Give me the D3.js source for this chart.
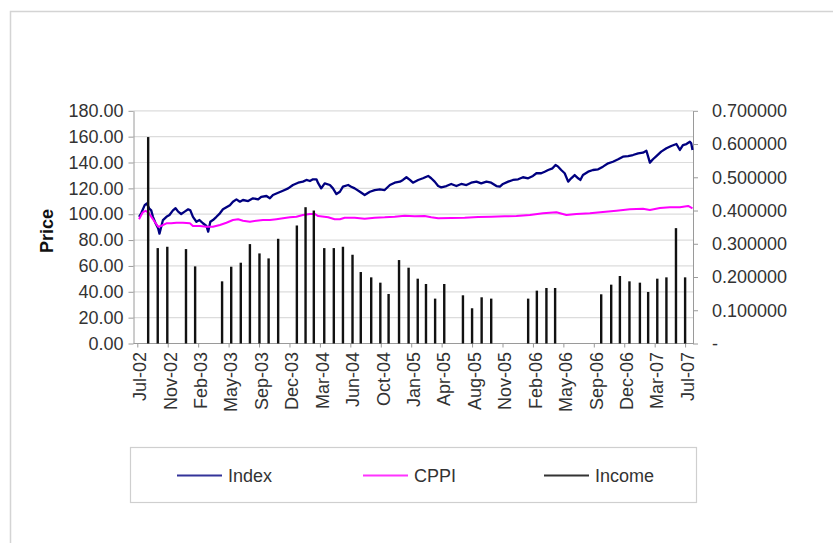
<!DOCTYPE html>
<html>
<head>
<meta charset="utf-8">
<script src="https://cdn.jsdelivr.net/npm/d3@7"></script>
<style>
  body { margin: 0; background: #fff; }
  text { font-family: "Liberation Sans", Arial, sans-serif; }
</style>
</head>
<body>
<div id="chart"></div>
<script>

// x axis runs in trading days from Jul-02, one label every 70 days
const tickLabels = ["Jul-02", "Nov-02", "Feb-03", "May-03", "Sep-03", "Dec-03", "Mar-04", "Jun-04", "Oct-04",
  "Jan-05", "Apr-05", "Aug-05", "Nov-05", "Feb-06", "May-06", "Sep-06", "Dec-06", "Mar-07", "Jul-07"];
const tickDays = tickLabels.map((d, i) => i * 70);

const priceTicks = [0, 20, 40, 60, 80, 100, 120, 140, 160, 180];
const incomeTicks = [0, 0.1, 0.2, 0.3, 0.4, 0.5, 0.6, 0.7];

const indexDay = [4, 9, 17, 22, 27, 32, 36, 42, 48, 51, 59, 67, 74, 82, 88, 94, 101, 109, 117, 122,
  128, 136, 143, 151, 159, 163, 168, 174, 182, 190, 197, 205, 213, 220, 228, 236, 243, 255, 266, 278,
  285, 297, 305, 312, 324, 335, 347, 358, 370, 381, 389, 397, 404, 412, 416, 423, 431, 443, 450, 458,
  466, 473, 485, 492, 500, 512, 523, 535, 546, 558, 569, 581, 592, 604, 611, 619, 627, 634, 646, 657,
  669, 676, 684, 692, 699, 711, 722, 734, 745, 757, 768, 780, 791, 803, 814, 826, 834, 841, 853, 864,
  876, 887, 899, 910, 918, 929, 937, 945, 955, 962, 968, 975, 983, 991, 998, 1006, 1014, 1019, 1025, 1037,
  1048, 1060, 1071, 1083, 1094, 1106, 1117, 1129, 1140, 1152, 1163, 1171, 1175, 1179, 1186, 1194, 1205, 1217, 1228, 1240,
  1248, 1255, 1263, 1271, 1274, 1277];
const indexValue = [98, 100.7, 107, 108.3, 104.6, 103, 98, 93, 89, 85, 95.5, 98, 99.4, 103, 104.6, 102, 100.2, 102, 103.8, 103,
  98, 94.2, 95.5, 93, 90.9, 86.5, 94.2, 95.5, 98, 100.7, 103.8, 105.4, 107, 109.7, 111.5, 109.7, 111, 110.2, 112.3, 111.5,
  113.5, 114.1, 112.3, 114.9, 116.6, 118.2, 120, 122.6, 124.4, 125.2, 126.5, 125.7, 127, 127, 124, 120, 123.9, 122.6, 120, 115.6,
  117.4, 121.3, 122.6, 121.3, 120, 117.4, 114.9, 117.4, 118.7, 119.3, 118.7, 122.6, 124.4, 125.2, 126.5, 128.6, 126.5, 124.4, 126.5, 127.8,
  129.6, 127.8, 125.2, 121.8, 120.8, 121.8, 123.4, 121.8, 123.4, 122.6, 124.4, 125.2, 123.9, 125.2, 124.4, 121.8, 121.3, 123.4, 125.2, 126.5,
  127, 128.6, 127.8, 129.6, 131.7, 131.7, 132.9, 134.2, 135.5, 138.1, 136.8, 134.2, 131.7, 125.2, 127.8, 130.3, 127.8, 126.5, 130.3, 132.9,
  134.2, 134.7, 136.8, 139.4, 140.6, 142.5, 144.5, 145, 145.8, 147.1, 147.6, 149.1, 144.5, 139.9, 142.5, 145, 148.4, 151, 152.8, 154.3,
  149.7, 153.5, 154.3, 156.1, 154.9, 149.7];

const cppiDay = [4, 12, 19, 27, 32, 40, 48, 55, 67, 78, 90, 105, 121, 128, 144, 159, 174, 190, 205, 220,
  232, 243, 259, 274, 289, 305, 320, 335, 351, 366, 381, 397, 408, 416, 439, 454, 466, 477, 500, 523,
  546, 569, 592, 615, 638, 661, 676, 692, 722, 753, 784, 814, 845, 872, 903, 933, 964, 987, 1010, 1041,
  1071, 1102, 1133, 1163, 1179, 1202, 1225, 1248, 1267, 1277];
const cppiValue = [96.1, 101.2, 102.7, 100.7, 98.1, 94.2, 90.3, 90.9, 93, 93, 93.4, 93.4, 93, 90.9, 90.9, 90.3, 90.3, 91.7, 93.4, 95.5,
  96.1, 95, 94.2, 95, 95.5, 95.5, 96.1, 96.8, 97.6, 98.1, 99.4, 100.2, 100.2, 98.6, 97.6, 96.1, 96.1, 97.3, 97.3, 96.5,
  97.3, 97.6, 98.1, 98.9, 98.4, 98.6, 97.6, 96.8, 97.1, 97.3, 97.8, 98.1, 98.4, 98.6, 99.4, 100.7, 101.5, 99.4, 100.2, 100.7,
  101.7, 102.7, 103.8, 104.3, 103.3, 104.8, 105.4, 105.4, 106.4, 104.6];

const incomeDay = [25, 47, 69, 112, 133, 195, 216, 238, 259, 281, 302, 324, 367, 387, 406, 430, 452, 473, 495, 514,
  538, 559, 578, 602, 624, 645, 664, 685, 706, 749, 770, 792, 814, 899, 919, 941, 961, 1067, 1090, 1110,
  1132, 1156, 1175, 1196, 1217, 1239, 1260];
const incomeValue = [0.621, 0.287, 0.291, 0.284, 0.232, 0.187, 0.231, 0.243, 0.299, 0.271, 0.256, 0.315, 0.355, 0.410, 0.400, 0.287, 0.287, 0.291, 0.267, 0.215,
  0.199, 0.183, 0.149, 0.251, 0.228, 0.195, 0.179, 0.135, 0.179, 0.145, 0.106, 0.139, 0.135, 0.135, 0.159, 0.167, 0.167, 0.148, 0.177, 0.203,
  0.187, 0.183, 0.155, 0.195, 0.199, 0.347, 0.199];

const width = 833;
const height = 543;
const plot = {left: 133.5, right: 693, top: 110.8, bottom: 343.5};

const svg = d3.select("#chart")
  .append("svg")
  .attr("width", width)
  .attr("height", height);

// outer chart frame (runs off the page on the right and bottom)
svg.append("rect")
  .attr("x", 10.5).attr("y", 11.5)
  .attr("width", 900).attr("height", 600)
  .attr("fill", "none")
  .attr("stroke", "#d4d4d4")
  .attr("stroke-width", 1.5);

let x = d3.scaleLinear().domain([0, 1277]).range([137.3, 692.5]);
let yLeft = d3.scaleLinear().domain([0, 180]).range([plot.bottom, plot.top]);
let yRight = d3.scaleLinear().domain([0, 0.7]).range([plot.bottom, plot.top]);

// gridlines
svg.append("g")
  .selectAll("line")
  .data(priceTicks.slice(1))
  .join("line")
    .attr("x1", plot.left).attr("x2", plot.right)
    .attr("y1", d => yLeft(d)).attr("y2", d => yLeft(d))
    .attr("stroke", "#dcdcdc")
    .attr("stroke-width", 1.2);

// Eixo vertical esquerdo
const axisL = svg.append("g")
  .attr("transform", "translate(" + plot.left + ",0)")
  .call(d3.axisLeft(yLeft).tickValues(priceTicks).tickFormat(d3.format(".2f")).tickSize(5).tickPadding(5).tickSizeOuter(0));

// Eixo vertical direito
const axisR = svg.append("g")
  .attr("transform", "translate(" + plot.right + ",0)")
  .call(d3.axisRight(yRight).tickValues(incomeTicks)
    .tickFormat(d => d === 0 ? "-" : d3.format(".6f")(d))
    .tickSize(5).tickPadding(14).tickSizeOuter(0));

// Eixo horizontal
const axisX = svg.append("g")
  .attr("transform", "translate(0," + plot.bottom + ")")
  .call(d3.axisBottom(x).tickValues(tickDays).tickFormat((d, i) => tickLabels[i]).tickSize(4).tickSizeOuter(0));

axisX.select(".domain").attr("d", "M" + plot.left + ",0H" + plot.right);

axisX.selectAll("text")
  .attr("transform", "rotate(-90)")
  .attr("text-anchor", "end")
  .attr("x", -8.5)
  .attr("y", 2)
  .attr("dy", "0.35em");

[axisL, axisR, axisX].forEach(g => {
  g.selectAll(".domain, line").attr("stroke", "#9a9a9a");
  g.selectAll("text").attr("font-size", 18).attr("fill", "#333")
    .attr("font-family", "'Liberation Sans', Arial, sans-serif");
});

svg.append("text")
  .attr("transform", "translate(53,231) rotate(-90)")
  .attr("text-anchor", "middle")
  .attr("font-size", 18)
  .attr("font-weight", "bold")
  .attr("fill", "#111")
  .text("Price");

// lines
const priceLine = d3.line().x(d => x(d[0])).y(d => yLeft(d[1]));

svg.append("path")
  .datum(indexDay.map((d, i) => [d, indexValue[i]]))
  .attr("fill", "none")
  .attr("stroke", "#000080")
  .attr("stroke-width", 2.3)
  .attr("stroke-linejoin", "round")
  .attr("d", priceLine);

svg.append("path")
  .datum(cppiDay.map((d, i) => [d, cppiValue[i]]))
  .attr("fill", "none")
  .attr("stroke", "#ff00ff")
  .attr("stroke-width", 2)
  .attr("stroke-linejoin", "round")
  .attr("d", priceLine);

// income bars
svg.append("g")
  .selectAll("rect")
  .data(incomeDay.map((d, i) => ({day: d, value: incomeValue[i]})))
  .join("rect")
    .attr("fill", "#111")
    .attr("x", d => x(d.day) - 1.2)
    .attr("y", d => yRight(d.value))
    .attr("width", 2.4)
    .attr("height", d => yRight(0) - yRight(d.value));

// legend
const legend = svg.append("g");
legend.append("rect")
  .attr("x", 130.5).attr("y", 447.5)
  .attr("width", 566).attr("height", 55)
  .attr("fill", "none")
  .attr("stroke", "#cfcfcf")
  .attr("stroke-width", 1.2);

const legendItems = [
  {name: "Index", color: "#333399", x: 177},
  {name: "CPPI", color: "#ff33ff", x: 363},
  {name: "Income", color: "#333", x: 544}
];

const item = legend.selectAll("g.item")
  .data(legendItems)
  .join("g")
    .attr("class", "item")
    .attr("transform", d => "translate(" + d.x + ",475.5)");

item.append("line")
  .attr("x1", 0).attr("x2", 45)
  .attr("stroke", d => d.color)
  .attr("stroke-width", 2);

item.append("text")
  .attr("x", 51)
  .attr("dy", "0.35em")
  .attr("font-size", 18)
  .attr("fill", "#333")
  .text(d => d.name);

</script>
</body>
</html>
